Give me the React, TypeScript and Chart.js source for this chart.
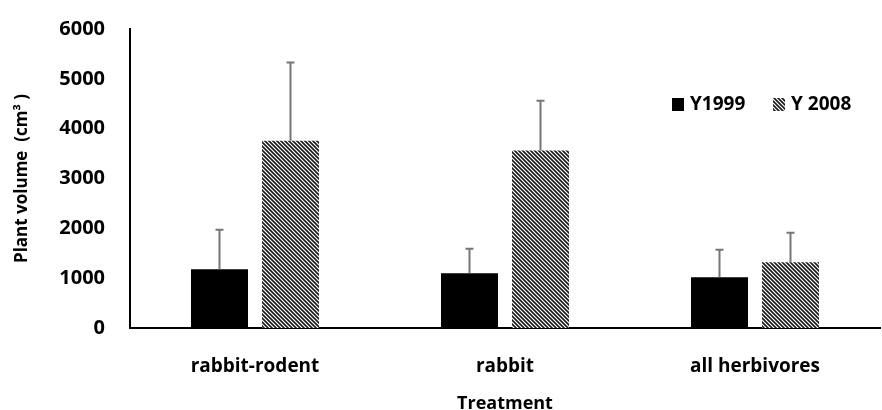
import React, { useEffect, useRef } from "react";
import { Chart, registerables, Plugin } from "chart.js";

Chart.register(...registerables);

const categories = ["rabbit-rodent", "rabbit", "all herbivores"];
const seriesNames = ["Y1999", "Y 2008"];
const y1999 = [1180, 1100, 1020];
const y2008 = [3760, 3560, 1320];
// upper error bar lengths
const y1999Err = [790, 490, 550];
const y2008Err = [1570, 1000, 590];
const yTicks = [0, 1000, 2000, 3000, 4000, 5000, 6000];

const FONT = "'Open Sans', 'DejaVu Sans', sans-serif";

function makeHatch(): CanvasPattern | string {
  const tile = document.createElement("canvas");
  tile.width = 4;
  tile.height = 4;
  const c = tile.getContext("2d");
  if (!c) return "#777";
  c.fillStyle = "#fff";
  c.fillRect(0, 0, 4, 4);
  c.strokeStyle = "#1a1a1a";
  c.lineWidth = 1.6;
  c.beginPath();
  c.moveTo(-1, -1);
  c.lineTo(5, 5);
  c.moveTo(-1, 3);
  c.lineTo(1, 5);
  c.moveTo(3, -1);
  c.lineTo(5, 1);
  c.stroke();
  return c.createPattern(tile, "repeat") || "#777";
}

const errorBars: Plugin<"bar"> = {
  id: "errorBars",
  afterDatasetsDraw(chart) {
    const { ctx } = chart;
    const yScale = chart.scales.y;
    const errs = [y1999Err, y2008Err];
    ctx.save();
    ctx.strokeStyle = "#767676";
    ctx.lineWidth = 2;
    chart.data.datasets.forEach((ds, di) => {
      const meta = chart.getDatasetMeta(di);
      meta.data.forEach((bar: any, i) => {
        const v = ds.data[i] as number;
        const top = yScale.getPixelForValue(v + errs[di][i]);
        ctx.beginPath();
        ctx.moveTo(bar.x, bar.y);
        ctx.lineTo(bar.x, top);
        ctx.moveTo(bar.x - 4, top);
        ctx.lineTo(bar.x + 4, top);
        ctx.stroke();
      });
    });
    ctx.restore();
  },
};

const insideLegend: Plugin<"bar"> = {
  id: "insideLegend",
  afterDraw(chart) {
    const { ctx } = chart;
    const starts = [672, 773];
    ctx.save();
    ctx.font = `bold 19px ${FONT}`;
    ctx.textBaseline = "middle";
    chart.data.datasets.forEach((ds, di) => {
      const x = starts[di];
      ctx.fillStyle = ds.backgroundColor as any;
      ctx.fillRect(x, 98, 12, 13);
      ctx.fillStyle = "#000";
      ctx.fillText(ds.label as string, x + 18, 105);
    });
    ctx.restore();
  },
};

const App = () => {
  const canvasRef = useRef<HTMLCanvasElement>(null);
  const chartRef = useRef<Chart<"bar"> | null>(null);

  useEffect(() => {
    if (!canvasRef.current) return;
    const hatch = makeHatch();
    Chart.defaults.font.family = FONT;
    Chart.defaults.color = "#000";

    chartRef.current = new Chart(canvasRef.current, {
      type: "bar",
      data: {
        labels: categories,
        datasets: [
          {
            label: seriesNames[0],
            data: y1999,
            backgroundColor: "#000",
            categoryPercentage: 0.568,
            barPercentage: 0.803,
          },
          {
            label: seriesNames[1],
            data: y2008,
            backgroundColor: hatch as any,
            categoryPercentage: 0.568,
            barPercentage: 0.803,
          },
        ],
      },
      options: {
        animation: false,
        responsive: true,
        maintainAspectRatio: false,
        layout: { padding: { top: 23, right: 2, left: 0, bottom: 0 } },
        plugins: {
          legend: { display: false },
          tooltip: { enabled: false },
        },
        scales: {
          x: {
            grid: { display: false },
            border: { display: true, color: "#000", width: 2 },
            ticks: { padding: 19, font: { size: 19, weight: "bold" } },
            title: {
              display: true,
              text: "Treatment",
              font: { size: 18, weight: "bold", lineHeight: 1 },
              padding: { top: 0, bottom: -3 },
            },
            afterFit: (s: any) => {
              s.height = 82;
            },
          },
          y: {
            min: 0,
            max: 6000,
            grid: { display: false },
            border: { display: true, color: "#000", width: 2 },
            afterBuildTicks: (s: any) => {
              s.ticks = yTicks.map((v) => ({ value: v }));
            },
            ticks: {
              padding: 17,
              font: { size: 20, weight: "bold" },
              callback: (v: any) => String(v),
            },
            title: {
              display: true,
              text: "Plant volume  (cm³ )",
              font: { size: 17, weight: "bold", lineHeight: 1 },
              padding: { top: 14, bottom: 0 },
            },
            afterFit: (s: any) => {
              s.width = 130;
            },
          },
        },
      },
      plugins: [errorBars, insideLegend],
    });

    return () => {
      chartRef.current?.destroy();
      chartRef.current = null;
    };
  }, []);

  return (
    <div style={{ position: "fixed", left: 0, top: 0, width: 882, height: 410, background: "#fff" }}>
      <canvas ref={canvasRef} />
    </div>
  );
};

export default App;
